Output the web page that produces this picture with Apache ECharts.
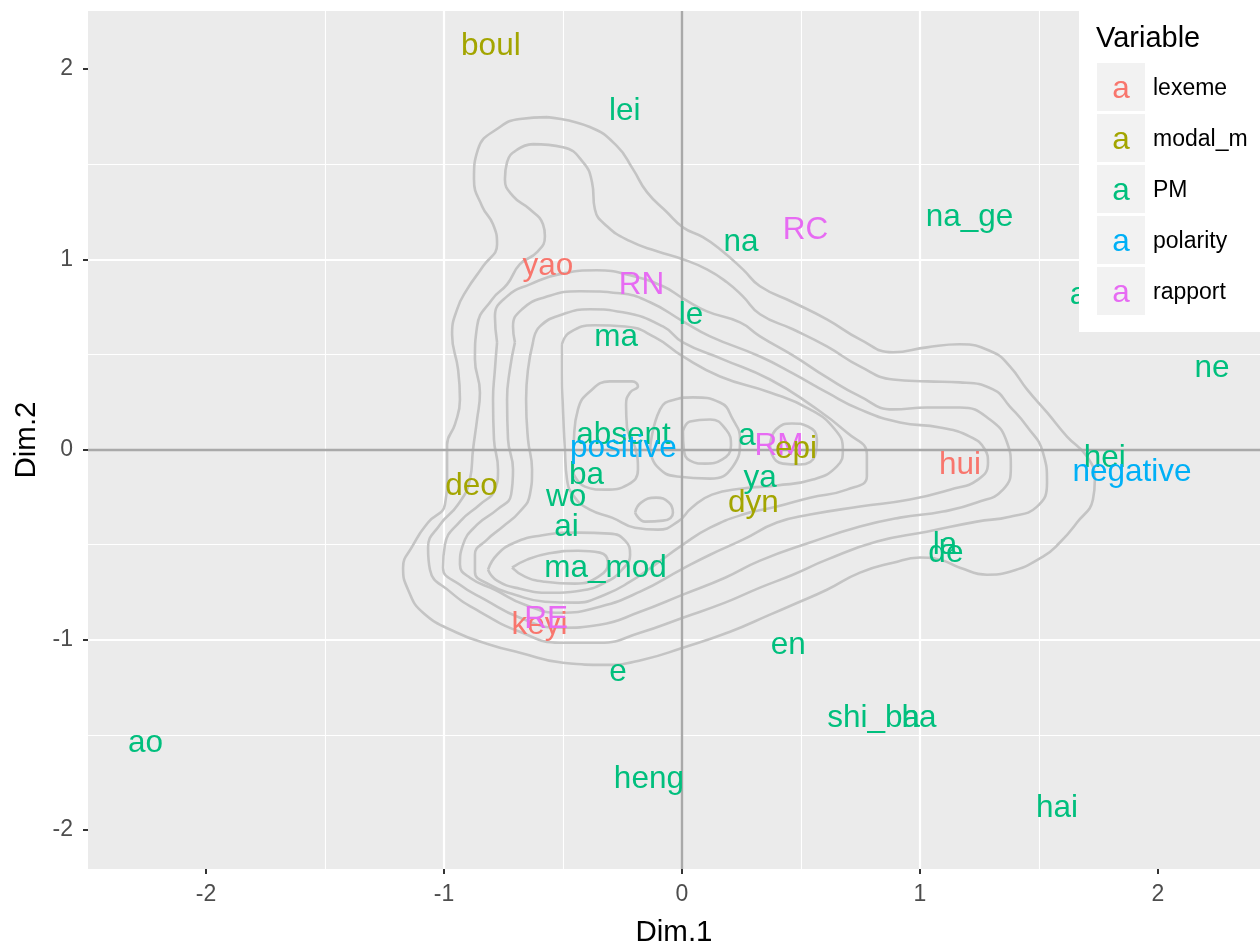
<!DOCTYPE html>
<html><head><meta charset="utf-8">
<script src="https://cdn.jsdelivr.net/npm/echarts@6/dist/echarts.min.js"></script>
<style>html,body{margin:0;padding:0;background:#fff}#c{width:1260px;height:947px}</style>
</head><body><div id="c"></div>
<script>
// ---- categories / legend ----
const variableNames = ['lexeme', 'modal_m', 'PM', 'polarity', 'rapport'];
const variableColors = ['#F8766D', '#A3A500', '#00BF7D', '#00B0F6', '#E76BF3'];

// ---- tick labels ----
const dim1Ticks = [-2, -1, 0, 1, 2];
const dim2Ticks = [-2, -1, 0, 1, 2];

// ---- text points (Dim.1, Dim.2) ----
const lexemeWords = ['yao', 'keyi', 'hui'];
const lexemeDim1 = [-0.563, -0.599, 1.168];
const lexemeDim2 = [0.974, -0.916, -0.074];

const modalWords = ['boul', 'deo', 'epi', 'dyn'];
const modalDim1 = [-0.803, -0.884, 0.479, 0.300];
const modalDim2 = [2.132, -0.184, 0.011, -0.274];

const pmWords = ['lei', 'na_ge', 'na', 'le', 'ma', 'a', 'ne', 'absent', 'ba', 'wo', 'ai', 'ma_mod', 'e', 'a', 'ya', 'hei', 'la', 'de', 'en', 'shi_ba', 'ha', 'heng', 'ao', 'hai'];
const pmDim1 = [-0.240, 1.208, 0.248, 0.038, -0.277, 1.666, 2.227, -0.246, -0.401, -0.487, -0.485, -0.321, -0.269, 0.273, 0.328, 1.777, 1.105, 1.109, 0.447, 0.805, 0.996, -0.139, -2.254, 1.576];
const pmDim2 = [1.789, 1.232, 1.100, 0.716, 0.600, 0.821, 0.437, 0.084, -0.126, -0.242, -0.400, -0.616, -1.163, 0.079, -0.142, -0.037, -0.495, -0.537, -1.021, -1.405, -1.405, -1.721, -1.532, -1.874];

const polarityWords = ['positive', 'negative'];
const polarityDim1 = [-0.246, 1.891];
const polarityDim2 = [0.016, -0.111];

const rapportWords = ['RC', 'RN', 'RM', 'RE'];
const rapportDim1 = [0.519, -0.170, 0.408, -0.571];
const rapportDim2 = [1.163, 0.874, 0.026, -0.882];

// ---- 2D density contour lines (Dim.1, Dim.2) ----
const contourLevel1 = [[-0.567,1.747],[-0.387,1.695],[-0.273,1.595],[-0.206,1.474],[-0.147,1.353],[-0.063,1.247],[0.004,1.168],[0.088,1.116],[0.160,1.053],[0.256,0.947],[0.328,0.858],[0.466,0.774],[0.609,0.684],[0.748,0.579],[0.887,0.511],[1.029,0.537],[1.168,0.553],[1.307,0.511],[1.378,0.437],[1.450,0.316],[1.534,0.195],[1.618,0.068],[1.702,-0.037],[1.735,-0.158],[1.727,-0.263],[1.660,-0.384],[1.588,-0.489],[1.517,-0.563],[1.378,-0.642],[1.282,-0.658],[1.168,-0.621],[1.084,-0.579],[1.000,-0.568],[0.887,-0.595],[0.748,-0.647],[0.609,-0.737],[0.466,-0.816],[0.370,-0.868],[0.202,-0.958],[0.004,-1.042],[-0.164,-1.105],[-0.315,-1.132],[-0.500,-1.121],[-0.681,-1.068],[-0.807,-1.026],[-0.945,-0.963],[-1.088,-0.858],[-1.151,-0.737],[-1.172,-0.621],[-1.134,-0.511],[-1.067,-0.384],[-0.996,-0.289],[-0.987,-0.132],[-0.987,0.026],[-0.954,0.132],[-0.933,0.263],[-0.941,0.421],[-0.966,0.605],[-0.945,0.737],[-0.903,0.842],[-0.836,0.963],[-0.777,1.079],[-0.794,1.184],[-0.840,1.279],[-0.874,1.421],[-0.857,1.579],[-0.765,1.695],[-0.681,1.737],[-0.567,1.747]];
const contourLevel2 = [[-0.626,1.605],[-0.500,1.589],[-0.416,1.511],[-0.378,1.405],[-0.366,1.263],[-0.315,1.174],[-0.218,1.095],[-0.105,1.042],[0.004,1.000],[0.105,0.947],[0.189,0.879],[0.256,0.805],[0.328,0.711],[0.466,0.632],[0.609,0.542],[0.748,0.437],[0.887,0.368],[1.029,0.358],[1.168,0.353],[1.307,0.316],[1.378,0.226],[1.450,0.121],[1.517,-0.016],[1.534,-0.174],[1.492,-0.300],[1.378,-0.353],[1.239,-0.379],[1.029,-0.432],[0.819,-0.484],[0.609,-0.579],[0.466,-0.658],[0.328,-0.726],[0.181,-0.805],[0.004,-0.884],[-0.176,-0.963],[-0.345,-1.016],[-0.513,-1.016],[-0.681,-0.958],[-0.849,-0.853],[-0.975,-0.747],[-1.059,-0.632],[-1.067,-0.516],[-1.017,-0.395],[-0.941,-0.289],[-0.891,-0.158],[-0.878,0.000],[-0.861,0.158],[-0.849,0.300],[-0.870,0.474],[-0.861,0.647],[-0.798,0.789],[-0.735,0.868],[-0.681,0.974],[-0.609,1.037],[-0.576,1.121],[-0.584,1.184],[-0.639,1.263],[-0.710,1.332],[-0.744,1.421],[-0.735,1.511],[-0.689,1.579],[-0.626,1.605]];
const contourLevel3 = [[-0.777,0.563],[-0.786,0.700],[-0.735,0.805],[-0.639,0.868],[-0.500,0.926],[-0.357,0.942],[-0.218,0.916],[-0.080,0.858],[0.004,0.795],[0.105,0.726],[0.244,0.668],[0.328,0.595],[0.466,0.495],[0.609,0.379],[0.748,0.279],[0.887,0.211],[1.029,0.221],[1.168,0.221],[1.294,0.158],[1.366,0.037],[1.382,-0.089],[1.349,-0.211],[1.239,-0.279],[1.097,-0.326],[0.916,-0.358],[0.748,-0.405],[0.538,-0.489],[0.328,-0.584],[0.181,-0.674],[0.004,-0.763],[-0.176,-0.853],[-0.345,-0.921],[-0.513,-0.937],[-0.681,-0.884],[-0.828,-0.789],[-0.933,-0.711],[-1.004,-0.621],[-0.996,-0.500],[-0.933,-0.379],[-0.849,-0.289],[-0.786,-0.211],[-0.773,-0.105],[-0.790,0.053],[-0.794,0.263],[-0.786,0.421],[-0.777,0.563]];
const contourLevel4 = [[-0.702,0.563],[-0.710,0.647],[-0.672,0.737],[-0.576,0.800],[-0.429,0.832],[-0.261,0.821],[-0.134,0.774],[0.004,0.674],[0.118,0.595],[0.328,0.489],[0.466,0.400],[0.609,0.300],[0.748,0.211],[0.916,0.142],[1.084,0.116],[1.210,0.068],[1.273,0.000],[1.286,-0.068],[1.244,-0.158],[1.126,-0.211],[0.958,-0.263],[0.748,-0.300],[0.538,-0.342],[0.399,-0.384],[0.256,-0.474],[0.118,-0.553],[0.004,-0.626],[-0.176,-0.747],[-0.345,-0.826],[-0.513,-0.858],[-0.660,-0.816],[-0.786,-0.737],[-0.891,-0.674],[-0.933,-0.605],[-0.920,-0.500],[-0.861,-0.395],[-0.777,-0.316],[-0.718,-0.237],[-0.710,-0.105],[-0.731,0.053],[-0.735,0.263],[-0.723,0.421],[-0.702,0.563]];
const contourLevel5 = [[-0.626,0.563],[-0.597,0.647],[-0.500,0.711],[-0.387,0.737],[-0.248,0.721],[-0.080,0.647],[0.004,0.563],[0.172,0.474],[0.370,0.368],[0.538,0.237],[0.693,0.089],[0.777,-0.026],[0.777,-0.142],[0.693,-0.211],[0.538,-0.253],[0.399,-0.300],[0.256,-0.342],[0.118,-0.411],[0.004,-0.500],[-0.113,-0.605],[-0.218,-0.695],[-0.324,-0.763],[-0.450,-0.805],[-0.576,-0.800],[-0.702,-0.763],[-0.807,-0.711],[-0.870,-0.642],[-0.870,-0.553],[-0.819,-0.474],[-0.752,-0.405],[-0.681,-0.326],[-0.639,-0.237],[-0.630,-0.105],[-0.647,0.053],[-0.655,0.263],[-0.647,0.421],[-0.626,0.563]];
const contourLevel6Left = [[-0.815,-0.632],[-0.777,-0.553],[-0.702,-0.489],[-0.597,-0.453],[-0.437,-0.437],[-0.303,-0.442],[-0.239,-0.479],[-0.218,-0.553],[-0.252,-0.632],[-0.324,-0.700],[-0.429,-0.742],[-0.555,-0.753],[-0.681,-0.732],[-0.777,-0.689],[-0.815,-0.632]];
const contourLevel6Centre = [[-0.504,0.553],[-0.471,0.616],[-0.366,0.653],[-0.239,0.647],[-0.113,0.589],[0.004,0.489],[0.160,0.384],[0.370,0.300],[0.538,0.211],[0.643,0.105],[0.676,0.000],[0.651,-0.089],[0.550,-0.158],[0.399,-0.189],[0.256,-0.205],[0.126,-0.237],[0.042,-0.305],[-0.017,-0.379],[-0.101,-0.421],[-0.197,-0.411],[-0.294,-0.358],[-0.387,-0.316],[-0.450,-0.253],[-0.483,-0.158],[-0.492,0.000],[-0.500,0.211],[-0.504,0.395],[-0.504,0.553]];
const contourLevel7Left = [[-0.714,-0.621],[-0.651,-0.579],[-0.563,-0.547],[-0.437,-0.532],[-0.345,-0.542],[-0.311,-0.595],[-0.345,-0.663],[-0.450,-0.705],[-0.576,-0.695],[-0.660,-0.668],[-0.714,-0.621]];
const contourLevel7Hook = [[-0.458,-0.121],[-0.454,0.053],[-0.437,0.211],[-0.387,0.305],[-0.303,0.358],[-0.210,0.358],[-0.185,0.332],[-0.218,0.300],[-0.235,0.237],[-0.231,0.116],[-0.197,0.011],[-0.185,-0.105],[-0.227,-0.184],[-0.324,-0.211],[-0.408,-0.195],[-0.458,-0.121]];
const contourLevel7Centre = [[-0.134,0.000],[-0.092,0.211],[-0.029,0.263],[0.046,0.274],[0.160,0.247],[0.214,0.158],[0.244,0.053],[0.214,-0.089],[0.118,-0.153],[-0.021,-0.142],[-0.105,-0.089],[-0.134,0.000]];
const contourLevel7Epi = [[0.370,0.026],[0.395,0.105],[0.462,0.137],[0.529,0.121],[0.567,0.053],[0.559,-0.032],[0.496,-0.079],[0.424,-0.074],[0.378,-0.026],[0.370,0.026]];
const contourLevel7Island = [[-0.197,-0.332],[-0.172,-0.279],[-0.109,-0.253],[-0.055,-0.279],[-0.038,-0.332],[-0.080,-0.374],[-0.155,-0.379],[-0.197,-0.332]];
const contourLevel8Centre = [[0.004,0.095],[0.034,0.147],[0.118,0.158],[0.185,0.105],[0.206,0.021],[0.168,-0.053],[0.097,-0.074],[0.034,-0.058],[0.008,0.000],[0.004,0.095]];

const densityContours = [contourLevel1, contourLevel2, contourLevel3, contourLevel4, contourLevel5,
  contourLevel6Left, contourLevel6Centre, contourLevel7Left, contourLevel7Hook, contourLevel7Centre,
  contourLevel7Epi, contourLevel7Island, contourLevel8Centre];

// ---- build ----
const FONT = '"Liberation Sans", Arial, Helvetica, sans-serif';
const groups = {
  lexeme: [lexemeWords, lexemeDim1, lexemeDim2],
  modal_m: [modalWords, modalDim1, modalDim2],
  PM: [pmWords, pmDim1, pmDim2],
  polarity: [polarityWords, polarityDim1, polarityDim2],
  rapport: [rapportWords, rapportDim1, rapportDim2]
};
const drawOrder = ['PM', 'lexeme', 'rapport', 'modal_m', 'polarity'];

const series = [];
densityContours.forEach(function (c, i) {
  series.push({
    type: 'line', data: c, smooth: 0.5, symbol: 'none', silent: true, z: 2,
    lineStyle: { color: '#C4C4C4', width: 2.6 },
    markLine: i === 0 ? {
      silent: true, symbol: 'none', animation: false, z: 3,
      label: { show: false },
      lineStyle: { color: '#A9A9A9', width: 2.4, type: 'solid' },
      data: [{ xAxis: 0 }, { yAxis: 0 }]
    } : undefined
  });
});
drawOrder.forEach(function (g, k) {
  const idx = variableNames.indexOf(g);
  const arr = groups[g];
  series.push({
    type: 'scatter', name: g, silent: true, z: 10 + k,
    symbolSize: 1, itemStyle: { color: 'rgba(0,0,0,0)', opacity: 1 },
    data: arr[0].map(function (w, i) { return { name: w, value: [arr[1][i], arr[2][i]] }; }),
    label: {
      show: true, position: 'inside', formatter: '{b}', offset: [0, 2], opacity: 1,
      textBorderWidth: 0,
      color: variableColors[idx], fontSize: 31.5, fontFamily: FONT
    }
  });
});

const graphics = [{ type: 'rect', z: 100, shape: { x: 1079, y: 0, width: 181, height: 332 }, style: { fill: '#ffffff' } },
  { type: 'text', z: 101, x: 1096, y: 39, style: { text: 'Variable', font: '29px ' + FONT, fill: '#000', align: 'left', verticalAlign: 'middle' } }];
variableNames.forEach(function (v, i) {
  graphics.push({ type: 'rect', z: 101, shape: { x: 1097, y: 63 + 51 * i, width: 48, height: 48 }, style: { fill: '#F2F2F2' } });
  graphics.push({ type: 'text', z: 102, x: 1121, y: 89 + 51 * i, style: { text: 'a', font: '31.5px ' + FONT, fill: variableColors[i], align: 'center', verticalAlign: 'middle' } });
  graphics.push({ type: 'text', z: 102, x: 1153, y: 89 + 51 * i, style: { text: v, font: '23px ' + FONT, fill: '#000', align: 'left', verticalAlign: 'middle' } });
});

const chart = echarts.init(document.getElementById('c'), null, { renderer: 'canvas' });
chart.setOption({
  animation: false,
  backgroundColor: '#ffffff',
  textStyle: { fontFamily: FONT },
  grid: { left: 88, right: 0, top: 11, bottom: 78, show: true, backgroundColor: '#EBEBEB', borderWidth: 0,
          containLabel: false, outerBoundsMode: 'none' },
  xAxis: {
    type: 'value', min: -2.496, max: 2.429,
    name: 'Dim.1', nameLocation: 'middle', nameGap: 49,
    nameTextStyle: { fontSize: 29.5, color: '#000', fontFamily: FONT },
    axisLine: { show: false, onZero: false },
    axisTick: { show: true, length: 5, lineStyle: { color: '#333', width: 2 }, customValues: dim1Ticks },
    axisLabel: { customValues: dim1Ticks, color: '#4D4D4D', fontSize: 23, margin: 14, fontFamily: FONT },
    splitLine: { show: true, showMinLine: false, showMaxLine: false, lineStyle: { color: '#fff', width: 2.2 } },
    minorTick: { show: false, splitNumber: 2 },
    minorSplitLine: { show: true, lineStyle: { color: '#fff', width: 1.1 } }
  },
  yAxis: {
    type: 'value', min: -2.205, max: 2.305,
    name: 'Dim.2', nameLocation: 'middle', nameGap: 44,
    nameTextStyle: { fontSize: 29.5, color: '#000', fontFamily: FONT },
    axisLine: { show: false, onZero: false },
    axisTick: { show: true, length: 5, lineStyle: { color: '#333', width: 2 }, customValues: dim2Ticks },
    axisLabel: { customValues: dim2Ticks, color: '#4D4D4D', fontSize: 23, margin: 15, fontFamily: FONT },
    splitLine: { show: true, showMinLine: false, showMaxLine: false, lineStyle: { color: '#fff', width: 2.2 } },
    minorTick: { show: false, splitNumber: 2 },
    minorSplitLine: { show: true, lineStyle: { color: '#fff', width: 1.1 } }
  },
  graphic: graphics,
  series: series
});
</script></body></html>
